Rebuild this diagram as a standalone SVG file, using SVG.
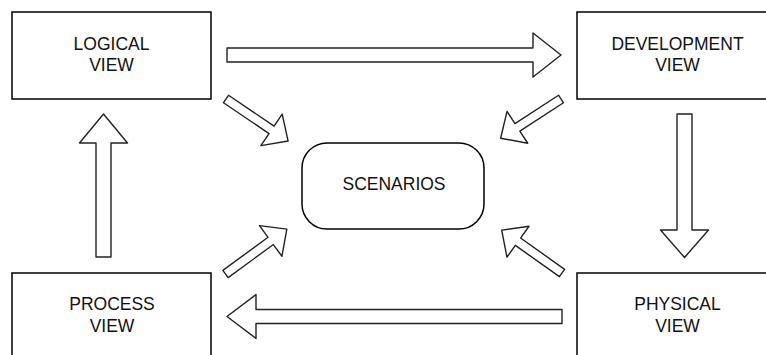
<svg xmlns="http://www.w3.org/2000/svg" width="766" height="355" viewBox="0 0 766 355">
<style>
.box{fill:#fff;stroke:#000;stroke-width:1.5}
.arr{fill:#fff;stroke:#222;stroke-width:1.4;stroke-linejoin:round}
.lbl{font-family:"Liberation Sans",Arial,sans-serif;font-size:17.5px;fill:#111;text-anchor:middle}
</style>
<defs>
<polygon id="diag" points="0,-4.5 55,-4.5 55,-19 75,0 55,19 55,4.5 0,4.5"/>
</defs>
<rect width="766" height="355" fill="#fff"/>
<g id="connectors">
<polygon class="arr" points="227,48 533,48 533,33 561,55 533,77 533,62 227,62"/>
<polygon class="arr" points="562,309.5 256,309.5 256,294.5 227,316.5 256,338.5 256,323.5 562,323.5"/>
<polygon class="arr" points="96,257 96,143 79.5,143 103.5,114 127.5,143 111,143 111,257"/>
<polygon class="arr" points="677,114 692,114 692,230 708.5,230 684.5,257.5 660.5,230 677,230"/>
<polygon class="arr" points="0,-4.5 55,-4.5 55,-19 75,0 55,19 55,4.5 0,4.5" transform="translate(226 99) rotate(34.1)"/>
<polygon class="arr" points="0,-4.5 52,-4.5 52,-19 72,0 52,19 52,4.5 0,4.5" transform="translate(561 99) rotate(147)"/>
<polygon class="arr" points="0,-4.5 56,-4.5 56,-19 76,0 56,19 56,4.5 0,4.5" transform="translate(225.5 274) rotate(-36.2)"/>
<polygon class="arr" points="0,-4.5 54,-4.5 54,-19 74,0 54,19 54,4.5 0,4.5" transform="translate(562 273) rotate(-144.6)"/>
</g>
<g id="logical">
<rect class="box" x="12" y="12" width="199" height="87"/>
<text class="lbl" x="111.5" y="49.5">LOGICAL</text>
<text class="lbl" x="111.5" y="71">VIEW</text>
</g>
<g id="development">
<rect class="box" x="577" y="12" width="199" height="87"/>
<text class="lbl" x="677.5" y="49.5">DEVELOPMENT</text>
<text class="lbl" x="677.5" y="71">VIEW</text>
</g>
<g id="process">
<rect class="box" x="12" y="273" width="199" height="87"/>
<text class="lbl" x="112" y="310">PROCESS</text>
<text class="lbl" x="112" y="331.5">VIEW</text>
</g>
<g id="physical">
<rect class="box" x="577" y="273" width="199" height="87"/>
<text class="lbl" x="677.5" y="310">PHYSICAL</text>
<text class="lbl" x="677.5" y="331.5">VIEW</text>
</g>
<g id="scenarios">
<rect class="box" x="302" y="143" width="182" height="86" rx="25" ry="25"/>
<text class="lbl" x="394" y="190">SCENARIOS</text>
</g>
</svg>
